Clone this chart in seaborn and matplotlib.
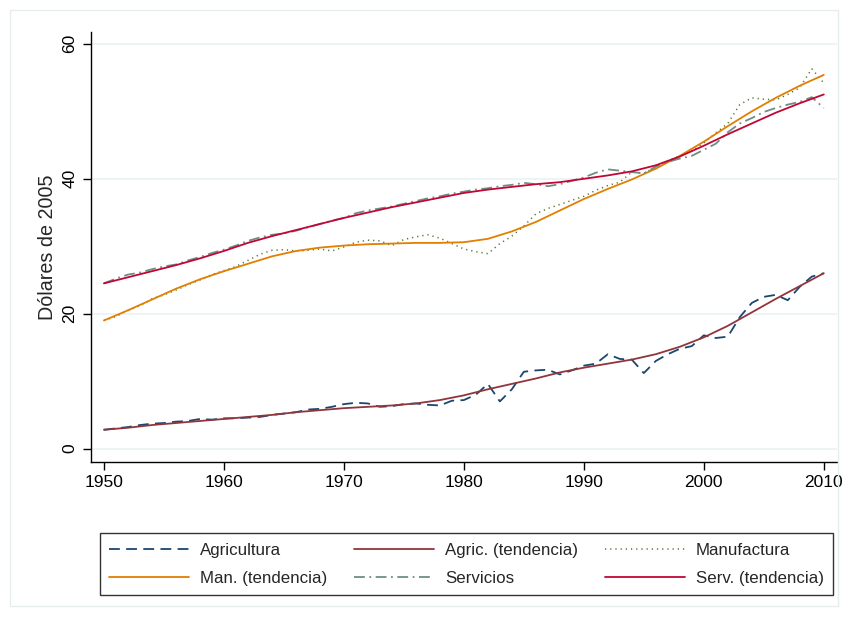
"""
Productividad por sector, 1950-2010, con tendencias
"""
import numpy as np
import pandas as pd
import matplotlib
matplotlib.use('Agg')
import matplotlib.pyplot as plt
from matplotlib.patches import Rectangle
import seaborn as sns

years = list(range(1950, 2011))
trend_years = list(range(1950, 2011, 2))

agricultura = [2.8, 3.0, 3.2, 3.5, 3.7, 3.8, 4.0, 4.1, 4.4, 4.3,
               4.5, 4.5, 4.6, 4.7, 5.0, 5.2, 5.4, 5.8, 5.9, 6.2,
               6.6, 6.8, 6.7, 6.2, 6.3, 6.6, 6.7, 6.5, 6.4, 7.1,
               7.2, 8.0, 9.6, 7.0, 8.8, 11.4, 11.6, 11.7, 11.0, 11.6,
               12.3, 12.6, 14.0, 13.3, 13.2, 11.2, 13.0, 14.0, 14.8, 15.2,
               16.8, 16.4, 16.6, 19.5, 21.6, 22.5, 22.8, 22.0, 24.0, 25.5,
               26.0]
manufactura = [19.0, 19.6, 20.5, 21.2, 22.2, 22.8, 23.5, 24.3, 25.0, 25.8,
               26.4, 27.0, 27.9, 28.8, 29.4, 29.5, 29.3, 29.4, 29.6, 29.3,
               29.9, 30.6, 30.9, 30.8, 30.1, 31.0, 31.4, 31.7, 31.2, 30.4,
               29.6, 29.2, 28.9, 30.4, 31.5, 33.0, 34.8, 35.6, 36.2, 36.8,
               37.4, 38.3, 39.0, 39.5, 41.0, 40.8, 41.8, 42.7, 43.4, 44.1,
               45.3, 46.8, 48.2, 51.0, 52.0, 51.8, 51.7, 52.5, 53.5, 56.3,
               54.2]
servicios = [24.5, 25.2, 25.8, 26.1, 26.6, 27.0, 27.3, 27.9, 28.4, 29.0,
             29.5, 30.1, 30.8, 31.3, 31.7, 31.9, 32.3, 32.8, 33.3, 33.8,
             34.2, 34.9, 35.3, 35.6, 35.9, 36.3, 36.7, 37.1, 37.4, 37.8,
             38.1, 38.4, 38.6, 38.9, 39.1, 39.4, 39.2, 38.9, 39.2, 39.7,
             40.2, 40.9, 41.4, 41.2, 41.0, 40.8, 41.8, 42.5, 43.0, 43.4,
             44.3, 45.2, 46.9, 48.2, 49.0, 49.9, 50.5, 51.0, 51.4, 52.1,
             50.5]

agr_tend = [2.8, 3.1, 3.5, 3.8, 4.1, 4.4, 4.7, 5.0, 5.4, 5.7,
            6.0, 6.2, 6.4, 6.7, 7.2, 7.9, 8.8, 9.6, 10.4, 11.3,
            12.0, 12.6, 13.2, 14.0, 15.1, 16.5, 18.2, 20.2, 22.2, 24.1,
            26.0]
man_tend = [19.0, 20.5, 22.1, 23.7, 25.1, 26.3, 27.4, 28.5, 29.3, 29.8,
            30.1, 30.3, 30.4, 30.5, 30.5, 30.6, 31.1, 32.2, 33.6, 35.3,
            37.0, 38.5, 39.9, 41.5, 43.4, 45.5, 47.8, 50.0, 52.0, 53.8,
            55.4]
serv_tend = [24.5, 25.4, 26.3, 27.2, 28.2, 29.3, 30.5, 31.5, 32.4, 33.3,
             34.2, 35.0, 35.8, 36.5, 37.2, 37.9, 38.4, 38.8, 39.2, 39.5,
             40.0, 40.5, 41.1, 42.0, 43.3, 44.9, 46.6, 48.2, 49.8, 51.2,
             52.5]

sns.set_theme(style='white')
plt.rcParams['font.family'] = ['Liberation Sans', 'DejaVu Sans']

fig = plt.figure(figsize=(8.48, 6.22), dpi=100)
ax = fig.add_axes([0.107, 0.257, 0.880, 0.692])

lw = 1.3
sns.lineplot(x=years, y=agricultura, ax=ax, color='#1a476f', lw=lw,
             linestyle=(0, (6, 3.5)), label='Agricultura')
sns.lineplot(x=trend_years, y=agr_tend, ax=ax, color='#90353b', lw=lw,
             label='Agric. (tendencia)')
sns.lineplot(x=years, y=manufactura, ax=ax, color='#55752f', lw=1.1,
             linestyle=(0, (0.8, 2.6)), label='Manufactura')
sns.lineplot(x=trend_years, y=man_tend, ax=ax, color='#e37e00', lw=lw,
             label='Man. (tendencia)')
sns.lineplot(x=years, y=servicios, ax=ax, color='#6e8e84', lw=lw,
             linestyle=(0, (6, 2.5, 1, 2.5)), label='Servicios')
sns.lineplot(x=trend_years, y=serv_tend, ax=ax, color='#c10534', lw=lw,
             label='Serv. (tendencia)')

ax.set_xlim(1948.9, 2011.1)
ax.set_ylim(-2.0, 61.8)
ax.set_xticks(range(1950, 2011, 10))
ax.set_yticks([0, 20, 40, 60])
ax.set_xlabel('')
ax.set_ylabel('Dólares de 2005', fontsize=14.2, labelpad=4)
ax.grid(axis='y', color='#eaf2f3', lw=1.2)
ax.grid(axis='x', visible=False)
for s in ['top', 'right']:
    ax.spines[s].set_visible(False)
for s in ['left', 'bottom']:
    ax.spines[s].set_color('black')
    ax.spines[s].set_linewidth(1.0)
ax.tick_params(axis='both', direction='out', length=6, width=1, color='black',
               labelsize=12.5, labelcolor='black', bottom=True, left=True)
plt.setp(ax.get_yticklabels(), rotation=90, va='center')

# legend filled row by row, as in the original
handles, labels = ax.get_legend_handles_labels()
if ax.get_legend() is not None:
    ax.get_legend().remove()
order = [0, 3, 1, 4, 2, 5]
leg = fig.legend([handles[i] for i in order], [labels[i] for i in order],
                 ncol=3, loc='center', bbox_to_anchor=(0.550, 0.093),
                 fontsize=12.2, handlelength=4.7, columnspacing=1.6,
                 handletextpad=0.65, labelspacing=0.78, frameon=True,
                 fancybox=False, borderpad=0.55, borderaxespad=0)
leg.get_frame().set_edgecolor('black')
leg.get_frame().set_linewidth(1.0)

fig.patches.append(Rectangle((10 / 848, 16 / 622), 828 / 848, 596 / 622,
                             transform=fig.transFigure, fill=False,
                             edgecolor='#e6edef', lw=1.0))

fig.savefig('out.png', dpi=100)
